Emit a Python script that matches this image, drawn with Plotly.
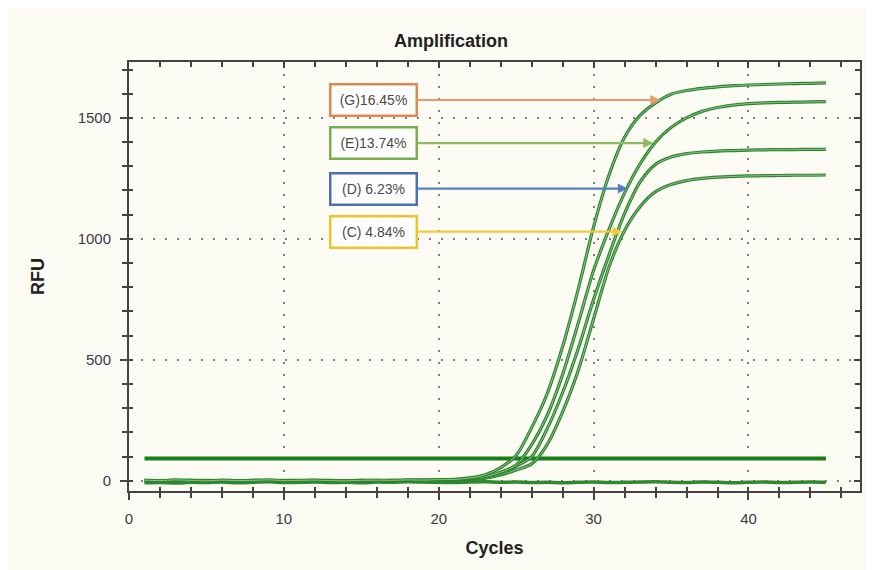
import plotly.graph_objects as go

# ---------------- data ----------------
cycles = list(range(1, 46))

rfu_G = [3, 1, 4, 2, 0, 3, 1, 2, 4, 1, 2, 3, 1, 0, 2, 3, 2, 4, 3, 5,
         6, 12, 25, 55, 105, 220, 360, 555, 790, 1050, 1265, 1420, 1510, 1562, 1598,
         1613, 1622, 1628, 1633, 1636, 1638, 1640, 1642, 1643, 1645]
rfu_E = [-2, 0, 1, -1, 2, 0, 1, -1, 0, 2, 1, 0, -1, 1, 2, 0, 1, 2, 3, 3,
         4, 9, 18, 36, 65, 150, 270, 440, 650, 870, 1040, 1190, 1310, 1400, 1460,
         1500, 1527, 1543, 1553, 1559, 1562, 1564, 1565, 1566, 1567]
rfu_D = [1, -1, 0, 2, 1, -2, 0, 1, -1, 0, 1, 2, 0, -1, 1, 0, 2, 1, 2, 2,
         3, 7, 14, 30, 60, 100, 215, 365, 545, 750, 935, 1105, 1235, 1308, 1338,
         1352, 1359, 1363, 1365, 1367, 1368, 1369, 1369, 1370, 1370]
rfu_C = [-1, 1, -2, 0, 1, 0, -1, 2, 0, -1, 0, 1, 2, 0, -1, 1, 0, 1, 1, 2,
         2, 5, 11, 24, 45, 70, 150, 285, 455, 670, 885, 1035, 1133, 1195, 1225,
         1241, 1250, 1255, 1258, 1260, 1261, 1262, 1263, 1263, 1264]
rfu_ntc = [-8, -7, -9, -6, -7, -5, -8, -6, -4, -7, -6, -5, -7, -6, -8, -5, -6, -4, -5, -6,
           -7, -5, -4, -6, -5, -7, -6, -8, -6, -5, -7, -6, -5, -4, -6, -7, -5, -6, -8, -6,
           -5, -7, -6, -5, -6]

threshold_cycles = [1, 45]
threshold_rfu = 92

labels = ["(G)16.45%", "(E)13.74%", "(D) 6.23%", "(C) 4.84%"]
label_colors = ["#e0894f", "#7aad4c", "#4a6fb4", "#f0c229"]
arrow_colors = ["#e8996a", "#8cbb5e", "#5a7fc0", "#f2c93a"]
# arrow targets (cycle, RFU)
arrow_x = [34.3, 33.85, 32.2, 31.85]
arrow_y = [1574, 1396, 1208, 1030]
label_cycle = 15.8

x_ticks = [0, 10, 20, 30, 40]
y_ticks = [0, 500, 1000, 1500]

# ---------------- figure ----------------
BG = "#fcfcf5"
FONT = "Liberation Sans, Arial, sans-serif"
fig = go.Figure()

fig.add_trace(go.Scatter(x=threshold_cycles, y=[threshold_rfu] * 2, mode="lines",
                         line=dict(color="#187f18", width=4), hoverinfo="skip"))
fig.add_trace(go.Scatter(x=cycles, y=rfu_ntc, mode="lines",
                         line=dict(color="#2f8a2f", width=3.5, shape="spline", smoothing=0.8),
                         hoverinfo="skip"))
for ser in [rfu_C, rfu_D, rfu_E, rfu_G]:
    fig.add_trace(go.Scatter(x=cycles, y=ser, mode="lines",
                             line=dict(color="#2f822f", width=3.2, shape="spline", smoothing=0.8),
                             hoverinfo="skip"))
    fig.add_trace(go.Scatter(x=cycles, y=ser, mode="lines",
                             line=dict(color="#86c886", width=1.0, shape="spline", smoothing=0.8),
                             hoverinfo="skip"))

# dummy traces so the overlay axes are drawn
fig.add_trace(go.Scatter(x=[None], y=[None], xaxis="x2", yaxis="y2", hoverinfo="skip"))
fig.add_trace(go.Scatter(x=[None], y=[None], xaxis="x3", yaxis="y3", hoverinfo="skip"))

XR = [0, 47.2]
YR = [-42, 1731]
axis_col = "#444444"
tickfont = dict(family=FONT, size=15, color="#3a3a44")

# page has an 8px body margin, so the figure is sized 866x562
W, H = 866, 562
fig.update_layout(
    width=W, height=H,
    margin=dict(l=121, r=14, t=54, b=79),
    paper_bgcolor=BG, plot_bgcolor=BG,
    showlegend=False,
    title=dict(text="<b>Amplification</b>", x=443 / W, xref="container", xanchor="center",
               y=1 - 33 / H, yref="container", yanchor="middle",
               font=dict(family=FONT, size=18, color="#222")),
    xaxis=dict(range=XR, tickvals=x_ticks, ticks="outside", ticklen=7, tickwidth=1.5,
               tickcolor=axis_col, showline=True, linecolor=axis_col, linewidth=2, mirror=True,
               showgrid=True, gridcolor="#808080", gridwidth=2, griddash="2px,10px",
               zeroline=False, tickfont=tickfont, ticklabelstandoff=6,
               minor=dict(dtick=2, tick0=0, ticks="outside", ticklen=5, tickwidth=1.5,
                          tickcolor=axis_col, showgrid=False),
               title=dict(text="<b>Cycles</b>", standoff=15,
                          font=dict(family=FONT, size=18, color="#222"))),
    yaxis=dict(range=YR, tickvals=y_ticks, ticks="outside", ticklen=7, tickwidth=1.5,
               tickcolor=axis_col, showline=True, linecolor=axis_col, linewidth=2, mirror=True,
               showgrid=True, gridcolor="#808080", gridwidth=2, griddash="2px,10px",
               zeroline=False, tickfont=tickfont, ticklabelstandoff=6,
               minor=dict(dtick=100, tick0=0, ticks="outside", ticklen=5, tickwidth=1.5,
                          tickcolor=axis_col, showgrid=False),
               title=dict(text="<b>RFU</b>", standoff=28,
                          font=dict(family=FONT, size=18, color="#222"))),
    # top & right inside ticks
    xaxis2=dict(range=XR, overlaying="x", side="top", anchor="y", tickvals=x_ticks,
                ticks="inside", ticklen=6, tickwidth=1.5, tickcolor=axis_col,
                showticklabels=False, showgrid=False, zeroline=False, showline=False,
                minor=dict(dtick=2, tick0=0, ticks="inside", ticklen=5, tickwidth=1.5,
                           tickcolor=axis_col, showgrid=False)),
    yaxis2=dict(range=YR, overlaying="y", side="right", anchor="x", tickvals=y_ticks,
                ticks="inside", ticklen=6, tickwidth=1.5, tickcolor=axis_col,
                showticklabels=False, showgrid=False, zeroline=False, showline=False,
                minor=dict(dtick=100, tick0=0, ticks="inside", ticklen=5, tickwidth=1.5,
                           tickcolor=axis_col, showgrid=False)),
    # bottom & left inside ticks (ticks cross the axis line)
    xaxis3=dict(range=XR, overlaying="x", side="bottom", anchor="y", tickvals=x_ticks,
                ticks="inside", ticklen=4, tickwidth=1.5, tickcolor=axis_col,
                showticklabels=False, showgrid=False, zeroline=False, showline=False,
                minor=dict(dtick=2, tick0=0, ticks="inside", ticklen=4, tickwidth=1.5,
                           tickcolor=axis_col, showgrid=False)),
    yaxis3=dict(range=YR, overlaying="y", side="left", anchor="x", tickvals=y_ticks,
                ticks="inside", ticklen=4, tickwidth=1.5, tickcolor=axis_col,
                showticklabels=False, showgrid=False, zeroline=False, showline=False,
                minor=dict(dtick=100, tick0=0, ticks="inside", ticklen=4, tickwidth=1.5,
                           tickcolor=axis_col, showgrid=False)),
)

for lab, bc, ac, xa, ya in zip(labels, label_colors, arrow_colors, arrow_x, arrow_y):
    fig.add_annotation(x=xa, y=ya, xref="x", yref="y", ax=label_cycle, ay=ya,
                       axref="x", ayref="y", text=lab, showarrow=True,
                       arrowhead=2, arrowsize=0.9, arrowwidth=2.2, arrowcolor=ac,
                       bordercolor=bc, borderwidth=2.5, borderpad=1, bgcolor="#ffffff",
                       width=82, height=27,
                       font=dict(family=FONT, size=14, color="#4a4a4a"))

fig.write_html("out.html")
